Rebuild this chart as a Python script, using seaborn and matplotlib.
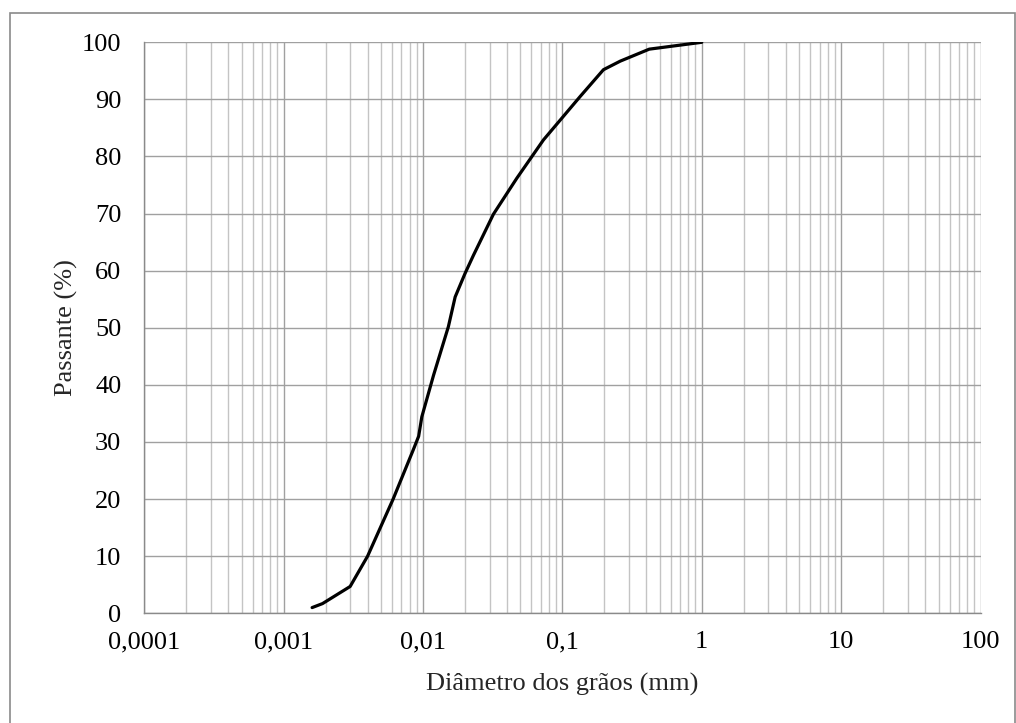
import numpy as np
import pandas as pd
import matplotlib
matplotlib.use("Agg")
import matplotlib.pyplot as plt
import matplotlib.ticker as mticker
from matplotlib.patches import Rectangle
import seaborn as sns

# Curva granulométrica: diâmetro (mm) x porcentagem passante
diametro = [0.0016, 0.0019, 0.0030, 0.0040, 0.0061, 0.0085, 0.0093, 0.0098,
            0.0119, 0.0152, 0.0170, 0.0200, 0.0230, 0.0320, 0.0471, 0.0731,
            0.134, 0.197, 0.260, 0.420, 1.0]
passante = [1.0, 1.7, 4.7, 10.0, 20.0, 28.6, 31.0, 34.4,
            41.7, 50.2, 55.4, 59.5, 62.7, 69.9, 76.2, 82.9,
            90.5, 95.2, 96.7, 98.8, 100.0]

x_ticks = [0.0001, 0.001, 0.01, 0.1, 1, 10, 100]
x_labels = ["0,0001", "0,001", "0,01", "0,1", "1", "10", "100"]
y_ticks = list(range(0, 101, 10))

df = pd.DataFrame({"diametro": diametro, "passante": passante})

sns.set_style("white")
plt.rcParams["font.family"] = ["Liberation Serif", "DejaVu Serif"]

W, H = 1016, 723
fig = plt.figure(figsize=(W / 100, H / 100), dpi=100)
ax = fig.add_axes([144.3 / W, 1 - 613.3 / H, (980.5 - 144.3) / W, (613.3 - 42.3) / H])

sns.lineplot(data=df, x="diametro", y="passante", ax=ax, color="black",
             linewidth=2.3, sort=False, estimator=None, zorder=5)

ax.set_xscale("log")
ax.set_xlim(0.0001, 100)
ax.set_ylim(0, 100)
ax.set_xticks(x_ticks)
ax.set_xticklabels(x_labels)
ax.xaxis.set_minor_locator(mticker.LogLocator(base=10, subs=np.arange(2, 10)))
ax.xaxis.set_minor_formatter(mticker.NullFormatter())
ax.set_yticks(y_ticks)

ax.grid(True, which="major", color="#a0a0a0", linewidth=1.0)
ax.grid(True, which="minor", axis="x", color="#c4c4c4", linewidth=1.0)
ax.set_axisbelow(True)

for side in ("top", "right"):
    ax.spines[side].set_visible(False)
for side in ("left", "bottom"):
    ax.spines[side].set_color("#8a8a8a")
    ax.spines[side].set_linewidth(1.0)

ax.tick_params(axis="both", which="major", direction="out", length=6,
               width=1.0, color="#8a8a8a", labelsize=19, labelcolor="black")
ax.tick_params(axis="x", which="major", pad=7)
ax.tick_params(axis="y", which="major", pad=10.5)
ax.tick_params(axis="x", which="minor", length=0)

ax.set_xlabel("Diâmetro dos grãos (mm)", fontsize=19, labelpad=14)
ax.set_ylabel("Passante (%)", fontsize=19, labelpad=3)

# moldura externa do gráfico
fig.patches.append(Rectangle((10 / W, -0.05), (1015 - 10) / W, 1.05 - 13 / H,
                             transform=fig.transFigure, fill=False,
                             edgecolor="#8a8a8a", linewidth=1.2))

fig.savefig("out.png", dpi=100)
